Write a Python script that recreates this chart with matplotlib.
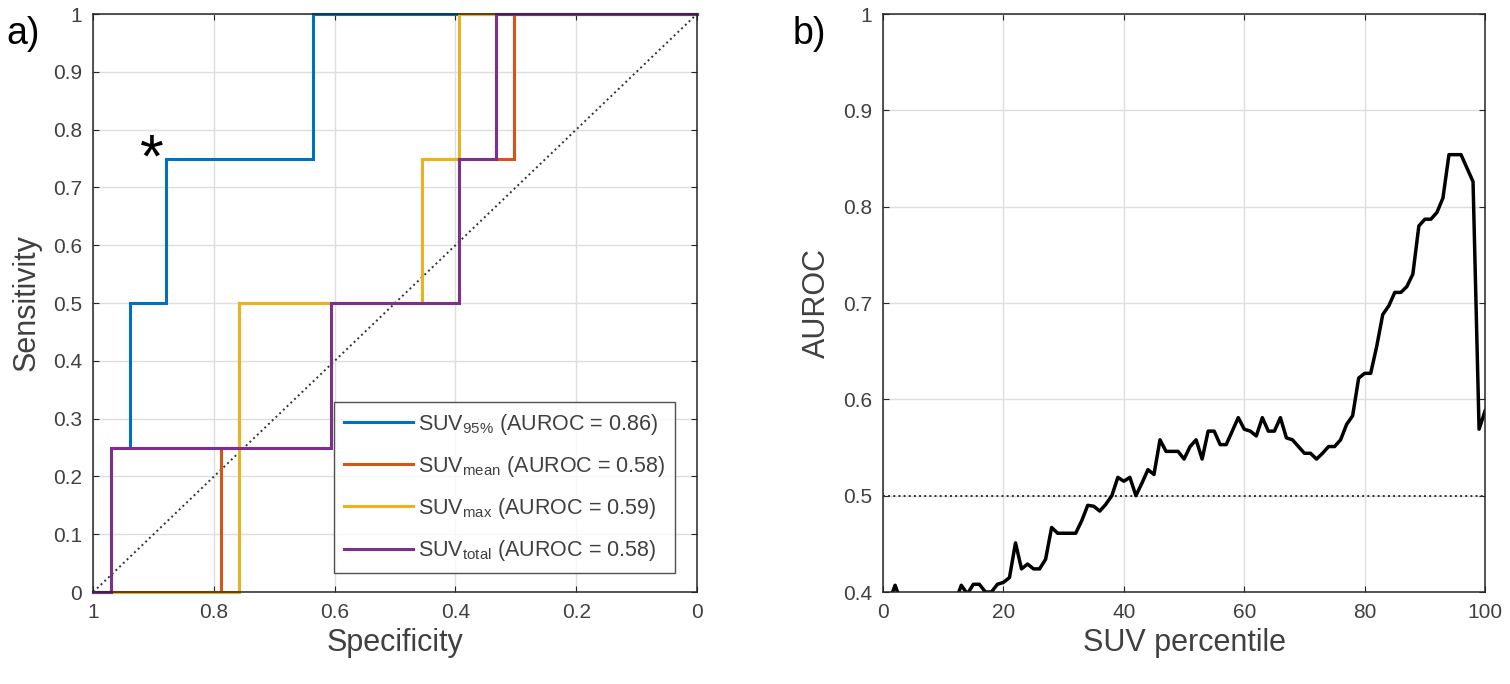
import numpy as np
import matplotlib
matplotlib.use('Agg')
import matplotlib.pyplot as plt

plt.rcParams['font.family'] = ['Liberation Sans', 'DejaVu Sans']
plt.rcParams['mathtext.fontset'] = 'custom'
plt.rcParams['mathtext.rm'] = 'Liberation Sans'
plt.rcParams['mathtext.it'] = 'Liberation Sans'
plt.rcParams['mathtext.bf'] = 'Liberation Sans:bold'

# ROC curves (specificity, sensitivity) for the four SUV metrics
spec_95 = [1, 0.97, 0.97, 0.94, 0.94, 0.879, 0.879, 0.636, 0.636, 0]
sens_95 = [0, 0, 0.25, 0.25, 0.5, 0.5, 0.75, 0.75, 1, 1]

spec_mean = [1, 0.788, 0.788, 0.758, 0.758, 0.455, 0.455, 0.303, 0.303, 0]
sens_mean = [0, 0, 0.25, 0.25, 0.5, 0.5, 0.75, 0.75, 1, 1]

spec_max = [1, 0.758, 0.758, 0.455, 0.455, 0.394, 0.394, 0]
sens_max = [0, 0, 0.5, 0.5, 0.75, 0.75, 1, 1]

spec_total = [1, 0.97, 0.97, 0.606, 0.606, 0.394, 0.394, 0.333, 0.333, 0]
sens_total = [0, 0, 0.25, 0.25, 0.5, 0.5, 0.75, 0.75, 1, 1]

roc_labels = [r'SUV$_{95\%}$ (AUROC = 0.86)',
              r'SUV$_{\mathrm{mean}}$ (AUROC = 0.58)',
              r'SUV$_{\mathrm{max}}$ (AUROC = 0.59)',
              r'SUV$_{\mathrm{total}}$ (AUROC = 0.58)']
roc_colors = ['#0072BD', '#D95319', '#EDB120', '#7E2F8E']

# AUROC vs SUV percentile
percentile = np.arange(1, 101)
auroc = [0.39, 0.407, 0.39, 0.39, 0.39, 0.39, 0.39, 0.39, 0.39, 0.39,
         0.39, 0.39, 0.407, 0.398, 0.408, 0.408, 0.40, 0.40, 0.408, 0.41,
         0.415, 0.451, 0.424, 0.429, 0.424, 0.424, 0.434, 0.467, 0.461, 0.461,
         0.461, 0.461, 0.474, 0.490, 0.489, 0.484, 0.491, 0.500, 0.519, 0.515,
         0.519, 0.500, 0.513, 0.527, 0.522, 0.558, 0.546, 0.546, 0.546, 0.538,
         0.551, 0.558, 0.538, 0.567, 0.567, 0.553, 0.553, 0.567, 0.581, 0.569,
         0.567, 0.562, 0.581, 0.567, 0.567, 0.581, 0.560, 0.558, 0.551, 0.544,
         0.544, 0.538, 0.544, 0.551, 0.551, 0.558, 0.574, 0.583, 0.622, 0.627,
         0.627, 0.655, 0.688, 0.697, 0.711, 0.711, 0.717, 0.730, 0.780, 0.787,
         0.787, 0.794, 0.809, 0.854, 0.854, 0.854, 0.840, 0.826, 0.569, 0.588]

spine_col = '#262626'
text_col = '#404040'
grid_col = '#dedede'


def style_axes(ax):
    ax.grid(True, color=grid_col, linewidth=1.0)
    ax.set_axisbelow(True)
    for s in ax.spines.values():
        s.set_color(spine_col)
        s.set_linewidth(1.1)
    ax.tick_params(direction='in', length=4, width=0.8, colors=spine_col,
                   labelcolor=text_col, labelsize=15, top=True, right=True,
                   pad=8)


fig = plt.figure(figsize=(15.1, 6.84), dpi=100)

# a) ROC curves
ax1 = fig.add_axes([0.0618, 0.1345, 0.3997, 0.845])
ax1.plot([1, 0], [0, 1], ':', color='#333333', linewidth=1.4)
for sx, sy, lab, col in zip([spec_95, spec_mean, spec_max, spec_total],
                            [sens_95, sens_mean, sens_max, sens_total],
                            roc_labels, roc_colors):
    ax1.plot(sx, sy, color=col, linewidth=2.2, label=lab,
             solid_joinstyle='miter', clip_on=False)
ax1.set_xlim(1, 0)
ax1.set_ylim(0, 1)
ax1.set_xticks([1, 0.8, 0.6, 0.4, 0.2, 0])
ax1.set_xticklabels(['1', '0.8', '0.6', '0.4', '0.2', '0'])
ax1.set_yticks(np.arange(0, 1.01, 0.1))
ax1.set_yticklabels(['0'] + ['%.1f' % v for v in np.arange(0.1, 0.95, 0.1)] + ['1'])
style_axes(ax1)
ax1.set_xlabel('Specificity', fontsize=22, color=text_col, labelpad=4)
ax1.set_ylabel('Sensitivity', fontsize=22, color=text_col, labelpad=8)
ax1.text(0.903, 0.745, '*', fontsize=44, ha='center', va='center',
         color='black')
leg = ax1.legend(loc='lower right', bbox_to_anchor=(0.964, 0.033),
                 borderaxespad=0, fontsize=15.5, frameon=True, fancybox=False,
                 handlelength=3.2, handletextpad=0.25, labelspacing=0.8,
                 borderpad=0.45)
leg.get_frame().set_edgecolor(spine_col)
leg.get_frame().set_linewidth(1.0)
for t in leg.get_texts():
    t.set_color(text_col)
fig.text(0.004, 0.935, 'a)', fontsize=27, color='black')

# b) AUROC vs percentile
ax2 = fig.add_axes([0.5848, 0.1345, 0.3987, 0.845])
ax2.axhline(0.5, linestyle=':', color='#333333', linewidth=1.4)
ax2.plot(percentile, auroc, color='black', linewidth=2.5,
         solid_joinstyle='round')
ax2.set_xlim(0, 100)
ax2.set_ylim(0.4, 1)
ax2.set_xticks([0, 20, 40, 60, 80, 100])
ax2.set_yticks([0.4, 0.5, 0.6, 0.7, 0.8, 0.9, 1.0])
ax2.set_yticklabels(['0.4', '0.5', '0.6', '0.7', '0.8', '0.9', '1'])
style_axes(ax2)
ax2.set_xlabel('SUV percentile', fontsize=22, color=text_col, labelpad=4)
ax2.set_ylabel('AUROC', fontsize=22, color=text_col, labelpad=8)
fig.text(0.525, 0.935, 'b)', fontsize=27, color='black')

fig.savefig('out.png', dpi=100)
